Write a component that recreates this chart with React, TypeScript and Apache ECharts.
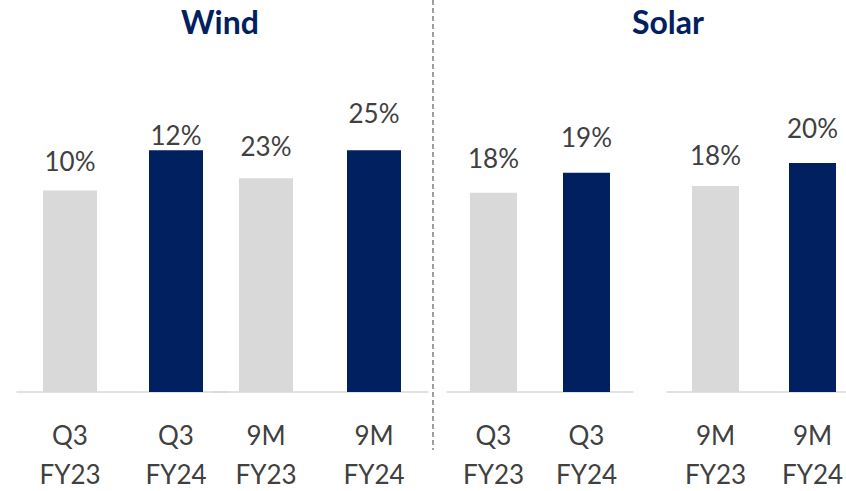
import React, { useEffect, useRef } from "react";
import * as echarts from "echarts";

// ---- data ----
const panelTitles = ["Wind", "Solar"];
const periodLabels = ["Q3\nFY23", "Q3\nFY24", "9M\nFY23", "9M\nFY24"];
const windValues = [10, 12, 23, 25];
const solarValues = [18, 19, 18, 20];
// each pair of bars is drawn on its own scale (as in the source slide)
const pairAxisMin = [0, 7.7, 8, 0];
const pairAxisMax = [14.5, 28.6, 22.65, 25.5];

// ---- styling ----
const NAVY = "#002060";
const GREY = "#D9D9D9";
const TEXT = "#404040";
const FONT = "Lato, 'Open Sans', sans-serif";

// grid boxes for the four pairs (left, width)
const gridBoxes = [
  { left: 17, width: 212 },
  { left: 212, width: 216 },
  { left: 447, width: 186 },
  { left: 667, width: 194 },
];
const barWidths = [54, 54, 47, 47];
const labelDistances = [[17, 2], [19, 24], [22, 23], [18, 22]];

export default function App() {
  const ref = useRef<HTMLDivElement>(null);

  useEffect(() => {
    if (!ref.current) return;
    const chart = echarts.init(ref.current, null, { renderer: "svg" });

    const pairs = [
      { values: windValues.slice(0, 2), cats: periodLabels.slice(0, 2) },
      { values: windValues.slice(2, 4), cats: periodLabels.slice(2, 4) },
      { values: solarValues.slice(0, 2), cats: periodLabels.slice(0, 2) },
      { values: solarValues.slice(2, 4), cats: periodLabels.slice(2, 4) },
    ];

    const grids = gridBoxes.map((g) => ({
      left: g.left,
      width: g.width,
      top: 100,
      bottom: 99,
      containLabel: false,
      outerBoundsMode: "none",
    }));

    const xAxes = pairs.map((p, i) => ({
      type: "category" as const,
      gridIndex: i,
      data: p.cats,
      axisLine: { show: true, lineStyle: { color: GREY, width: 1.5 } },
      axisTick: { show: false },
      axisLabel: {
        color: TEXT,
        fontSize: 26,
        lineHeight: 39,
        fontFamily: FONT,
        margin: 23,
        interval: 0,
      },
    }));

    const yAxes = pairs.map((_, i) => ({
      type: "value" as const,
      gridIndex: i,
      min: pairAxisMin[i],
      max: pairAxisMax[i],
      show: false,
      splitLine: { show: false },
    }));

    const series = pairs.map((p, i) => ({
      type: "bar" as const,
      xAxisIndex: i,
      yAxisIndex: i,
      barWidth: barWidths[i],
      data: p.values.map((v, j) => ({
        value: v,
        itemStyle: { color: j === 0 ? GREY : NAVY },
        label: { distance: labelDistances[i][j] },
      })),
      label: {
        show: true,
        position: "top" as const,
        formatter: "{c}%",
        color: TEXT,
        fontSize: 26,
        fontFamily: FONT,
      },
    }));

    chart.setOption({
      animation: false,
      backgroundColor: "#ffffff",
      title: [
        { text: panelTitles[0], left: 220, top: 5, textAlign: "center" },
        { text: panelTitles[1], left: 668, top: 5, textAlign: "center" },
      ].map((t) => ({
        ...t,
        padding: 0,
        textStyle: { color: NAVY, fontSize: 32, fontWeight: "bold", fontFamily: FONT },
      })),
      grid: grids,
      xAxis: xAxes,
      yAxis: yAxes,
      series,
      graphic: [
        {
          type: "line",
          shape: { x1: 433, y1: 0, x2: 433, y2: 450 },
          style: { stroke: "#7F7F7F", lineWidth: 1.5, lineDash: [5, 3] },
          silent: true,
        },
      ],
    });

    return () => chart.dispose();
  }, []);

  return (
    <div
      ref={ref}
      style={{ position: "fixed", left: 0, top: 0, width: 846, height: 491 }}
    />
  );
}
